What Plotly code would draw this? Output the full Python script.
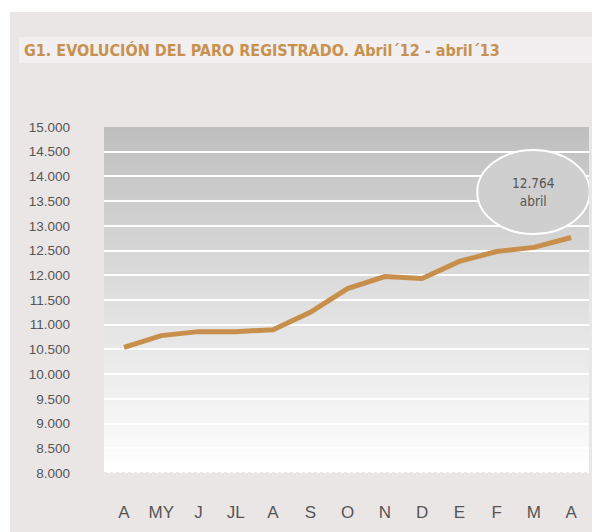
import plotly.graph_objects as go

# ---- data ----
months = ["A", "MY", "J", "JL", "A", "S", "O", "N", "D", "E", "F", "M", "A"]
paro = [10540, 10780, 10860, 10860, 10900, 11250, 11730, 11975, 11935, 12280, 12480, 12565, 12764]
y_ticks = list(range(8000, 15001, 500))
title_main = "G1. EVOLUCIÓN DEL PARO REGISTRADO."
title_sub = "Abril´12 - abril´13"
callout_value = "12.764"
callout_label = "abril"

W, H = 592, 532
L, R, T, B = 104, 3, 127, 59
pw, ph = W - L - R, H - T - B

x_idx = list(range(len(months)))
ymin, ymax = 8000, 15000

fig = go.Figure()

fig.add_trace(go.Scatter(
    x=x_idx, y=paro, mode="lines",
    line=dict(color="#C88F4C", width=5),
    hoverinfo="skip", showlegend=False,
))

shapes = []


def px_x(p):
    return (p - L) / pw


def px_y(p):
    return (H - B - p) / ph


# page background and title band
shapes.append(dict(type="rect", xref="paper", yref="paper", layer="below",
                   x0=px_x(10), x1=px_x(W + 2), y0=px_y(H + 2), y1=px_y(12),
                   fillcolor="#EBE6E6", line=dict(width=0)))
shapes.append(dict(type="rect", xref="paper", yref="paper", layer="below",
                   x0=px_x(19), x1=px_x(W + 2), y0=px_y(63), y1=px_y(37),
                   fillcolor="#F1EFEF", line=dict(width=0)))

# vertical gradient background of the plot area
n = 70
step = (ymax - ymin) / n
for i in range(n):
    y0 = ymin + i * step
    y1 = min(y0 + step * 1.6, ymax)
    t = (y0 + step / 2 - ymin) / (ymax - ymin)
    c = int(round(255 - 64 * t))
    shapes.append(dict(type="rect", xref="paper", yref="y", layer="below",
                       x0=0, x1=1, y0=y0, y1=y1,
                       fillcolor=f"rgb({c},{c},{c})", line=dict(width=0)))

# dotted baseline
shapes.append(dict(type="line", xref="paper", yref="y", layer="above",
                   x0=0, x1=1, y0=ymin, y1=ymin,
                   line=dict(color="#D0D0D0", width=1, dash="dot")))

# callout ellipse
shapes.append(dict(type="circle", xref="x", yref="y", layer="above",
                   x0=9.48, x1=12.5, y0=12835, y1=14535,
                   fillcolor="#CFCFCF", line=dict(color="white", width=2)))

fig.update_layout(
    width=W, height=H,
    margin=dict(l=L, r=R, t=T, b=B),
    paper_bgcolor="white",
    plot_bgcolor="rgba(0,0,0,0)",
    separators=",.",
    shapes=shapes,
    showlegend=False,
    title=dict(
        text=f"<b>{title_main} {title_sub}</b>",
        xref="container", yref="container",
        x=24 / W, xanchor="left",
        y=1 - 50 / H, yanchor="middle",
        font=dict(family="DejaVu Sans Condensed, sans-serif",
                  size=16, color="#C8914F"),
    ),
    xaxis=dict(
        range=[-0.537, 12.48],
        tickvals=x_idx, ticktext=months,
        showgrid=False, zeroline=False, showline=False,
        ticks="", ticklabelstandoff=27,
        tickfont=dict(family="Liberation Sans, Arial, sans-serif", size=17, color="#555555"),
        fixedrange=True,
    ),
    yaxis=dict(
        range=[ymin, ymax],
        tickvals=y_ticks, tickformat=",d",
        showgrid=True, gridcolor="white", gridwidth=2,
        zeroline=False, showline=False,
        ticks="", ticklabelstandoff=33,
        tickfont=dict(family="Liberation Sans, Arial, sans-serif",
                      size=13.5, color="#555555"),
        fixedrange=True,
    ),
    annotations=[dict(
        x=11.0, y=13690, xref="x", yref="y",
        text=f"{callout_value}<br>{callout_label}",
        showarrow=False, align="center",
        font=dict(family="DejaVu Sans Condensed, sans-serif",
                  size=13.5, color="#555555"),
    )],
)

fig.write_html("out.html", config={"displayModeBar": False},
               post_script="document.body.style.margin='0';")
